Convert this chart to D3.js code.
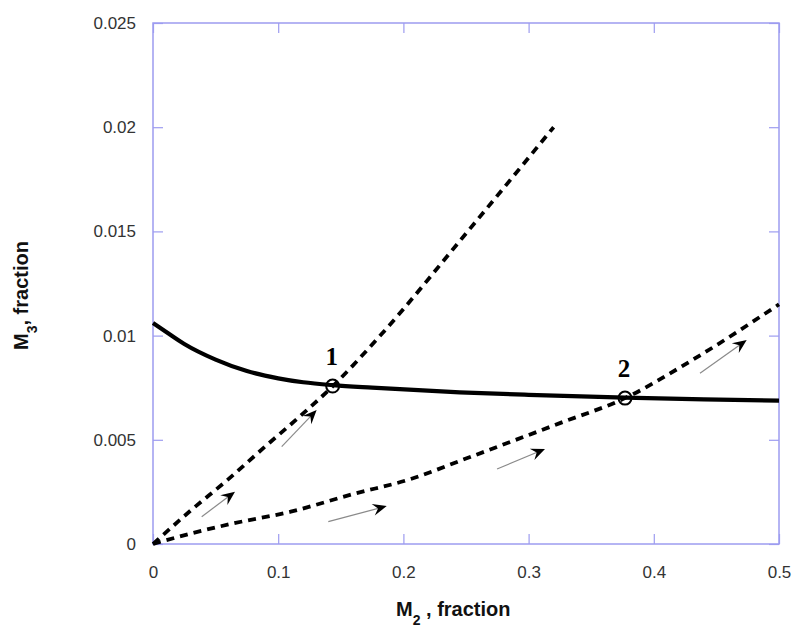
<!DOCTYPE html>
<html>
<head>
<meta charset="utf-8">
<script src="https://cdn.jsdelivr.net/npm/d3@7"></script>
<style>
  body { margin: 0; background: #fff; }
  svg { display: block; }
</style>
</head>
<body>
<svg id="chart" width="800" height="641"></svg>
<script>
// ---- Data ----
const xTicks = [0, 0.1, 0.2, 0.3, 0.4, 0.5];
const xTickLabels = ["0", "0.1", "0.2", "0.3", "0.4", "0.5"];
const yTicks = [0, 0.005, 0.01, 0.015, 0.02, 0.025];
const yTickLabels = ["0", "0.005", "0.01", "0.015", "0.02", "0.025"];

// solid curve (M2, M3)
const curveM2 = [0, 0.01, 0.025, 0.05, 0.075, 0.1, 0.12, 0.144, 0.175, 0.245, 0.3, 0.377, 0.44, 0.5];
const curveM3 = [0.0106, 0.0102, 0.0096, 0.00885, 0.0083, 0.00795, 0.00776, 0.00762, 0.0075, 0.00728, 0.00716, 0.00702, 0.00694, 0.00688];

// dashed trajectory 1
const path1M2 = [0, 0.03, 0.06, 0.09, 0.115, 0.144, 0.18, 0.25, 0.32];
const path1M3 = [0, 0.0016, 0.0031, 0.0047, 0.006, 0.0076, 0.0099, 0.0149, 0.02];

// dashed trajectory 2
const path2M2 = [0, 0.03, 0.065, 0.11, 0.16, 0.205, 0.25, 0.325, 0.377, 0.43, 0.5];
const path2M3 = [0, 0.0005, 0.001, 0.00155, 0.0024, 0.0031, 0.0041, 0.0058, 0.0070, 0.0088, 0.0115];

// intersection points
const pointLabels = ["1", "2"];
const pointM2 = [0.1435, 0.377];
const pointM3 = [0.00758, 0.00700];

// direction arrows (start -> end)
const arrowX0 = [0.0389, 0.1028, 0.140, 0.2748, 0.4369];
const arrowY0 = [0.00131, 0.00467, 0.00107, 0.0036, 0.00819];
const arrowX1 = [0.0655, 0.1307, 0.1867, 0.3131, 0.4742];
const arrowY1 = [0.00251, 0.00643, 0.00182, 0.00456, 0.00979];

const xTitle = "M";
const xTitleSub = "2";
const xTitleRest = " , fraction";
const yTitle = "M";
const yTitleSub = "3";
const yTitleRest = ", fraction";

// ---- Layout ----
const L = 153, R = 779, T = 23, B = 544;
const svg = d3.select("#chart");
const x = d3.scaleLinear().domain([0, 0.5]).range([L, R]);
const y = d3.scaleLinear().domain([0, 0.025]).range([B, T]);

const frameColor = "#9d9cf0";
const tickFont = "'Liberation Sans', Arial, sans-serif";

// frame
svg.append("rect").attr("x", L).attr("y", T).attr("width", R - L).attr("height", B - T)
  .attr("fill", "none").attr("stroke", frameColor).attr("stroke-width", 1.5);

// axes (inner ticks)
const tickLen = 10;
const xAxisB = d3.axisBottom(x).tickValues(xTicks).tickSize(-tickLen).tickFormat((d, i) => xTickLabels[i]).tickPadding(22);
const xAxisT = d3.axisTop(x).tickValues(xTicks).tickSize(-tickLen).tickFormat("");
const yAxisL = d3.axisLeft(y).tickValues(yTicks).tickSize(-tickLen).tickFormat((d, i) => yTickLabels[i]).tickPadding(17);
const yAxisR = d3.axisRight(y).tickValues(yTicks).tickSize(-tickLen).tickFormat("");

function styleAxis(g) {
  g.select(".domain").remove();
  g.selectAll(".tick line").attr("stroke", frameColor).attr("stroke-width", 1.2);
  g.selectAll(".tick text").attr("fill", "#333").attr("font-family", tickFont).attr("font-size", 17);
}
svg.append("g").attr("transform", `translate(0,${B})`).call(xAxisB).call(styleAxis);
svg.append("g").attr("transform", `translate(0,${T})`).call(xAxisT).call(styleAxis);
svg.append("g").attr("transform", `translate(${L},0)`).call(yAxisL).call(styleAxis);
svg.append("g").attr("transform", `translate(${R},0)`).call(yAxisR).call(styleAxis);

// titles
const xt = svg.append("text").attr("x", 396).attr("y", 616)
  .attr("font-family", tickFont).attr("font-weight", "bold").attr("font-size", 20).attr("fill", "#111");
xt.append("tspan").text(xTitle);
xt.append("tspan").attr("font-size", 14).attr("dy", 9).text(xTitleSub);
xt.append("tspan").attr("dy", -9).text(xTitleRest);

const yt = svg.append("text").attr("transform", "translate(28,350) rotate(-90)")
  .attr("font-family", tickFont).attr("font-weight", "bold").attr("font-size", 20).attr("fill", "#111");
yt.append("tspan").text(yTitle);
yt.append("tspan").attr("font-size", 14).attr("dy", 9).text(yTitleSub);
yt.append("tspan").attr("dy", -9).text(yTitleRest);

// lines
const line = d3.line().x(d => x(d[0])).y(d => y(d[1])).curve(d3.curveMonotoneX);
const solid = curveM2.map((v, i) => [v, curveM3[i]]);
const p1 = path1M2.map((v, i) => [v, path1M3[i]]);
const p2 = path2M2.map((v, i) => [v, path2M3[i]]);

svg.append("path").attr("d", line(p1)).attr("fill", "none").attr("stroke", "#000")
  .attr("stroke-width", 3.8).attr("stroke-dasharray", "8,6");
svg.append("path").attr("d", line(p2)).attr("fill", "none").attr("stroke", "#000")
  .attr("stroke-width", 3.8).attr("stroke-dasharray", "8,6");
svg.append("path").attr("d", line(solid)).attr("fill", "none").attr("stroke", "#000")
  .attr("stroke-width", 4.2);

// arrows
arrowX0.forEach((_, i) => {
  const xa = x(arrowX0[i]), ya = y(arrowY0[i]), xb = x(arrowX1[i]), yb = y(arrowY1[i]);
  const ang = Math.atan2(yb - ya, xb - xa);
  svg.append("line").attr("x1", xa).attr("y1", ya).attr("x2", xb - 6 * Math.cos(ang)).attr("y2", yb - 6 * Math.sin(ang))
    .attr("stroke", "#8a8a8a").attr("stroke-width", 1.2);
  const len = 14, wid = 6, back = 9;
  const c = Math.cos(ang), s = Math.sin(ang);
  const pt = (u, v) => [xb + u * c - v * s, yb + u * s + v * c];
  const pts = [pt(0, 0), pt(-len, -wid), pt(-back, 0), pt(-len, wid)];
  svg.append("path").attr("d", "M" + pts.map(p => p.join(",")).join("L") + "Z").attr("fill", "#000");
});

// points and labels
pointM2.forEach((v, i) => {
  svg.append("circle").attr("cx", x(v)).attr("cy", y(pointM3[i])).attr("r", 6.5)
    .attr("fill", "none").attr("stroke", "#000").attr("stroke-width", 2);
  svg.append("text").attr("x", x(v) - 1).attr("y", y(pointM3[i]) - 21)
    .attr("text-anchor", "middle").attr("font-family", "'Liberation Serif', 'Times New Roman', serif")
    .attr("font-weight", "bold").attr("font-size", 25).attr("fill", "#000").text(pointLabels[i]);
});
</script>
</body>
</html>
